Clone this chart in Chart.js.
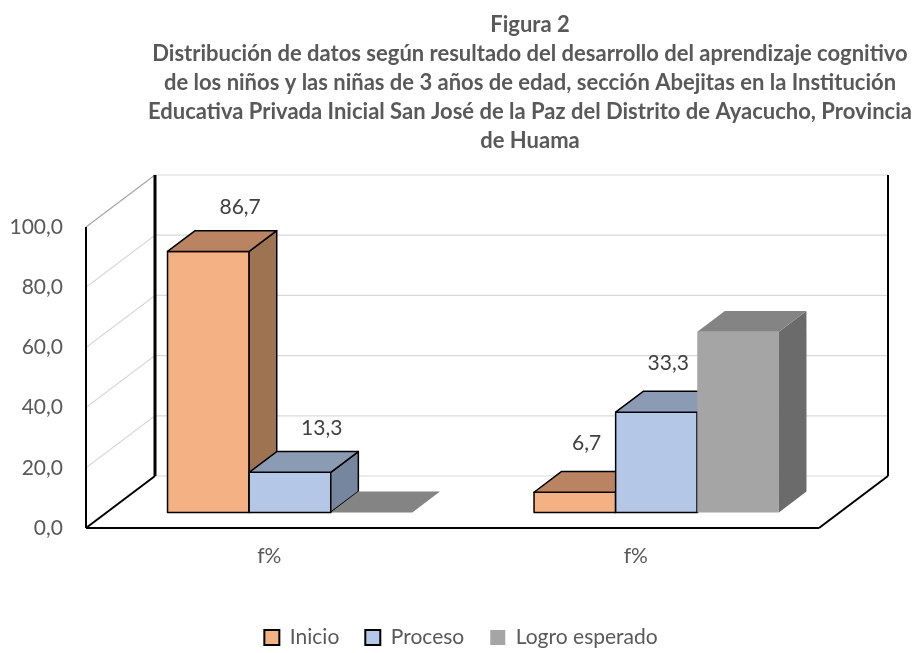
<!DOCTYPE html>
<html>
<head>
<meta charset="utf-8">
<script src="https://cdn.jsdelivr.net/npm/chart.js@4.4.1/dist/chart.umd.min.js"></script>
<style>
  html, body { margin: 0; padding: 0; background: #fff; }
  #marco { width: 922px; height: 653px; }
</style>
</head>
<body>
<div id="marco"><canvas id="grafico" width="922" height="653"></canvas></div>
<script>
// Datos
const categorias = ['f%', 'f%'];
const inicio = [86.7, 6.7];
const proceso = [13.3, 33.3];
const logroEsperado = [0, 60];
const marcasY = [0, 20, 40, 60, 80, 100];

const titulo = [
  'Figura 2',
  'Distribución de datos según resultado del desarrollo del aprendizaje cognitivo',
  'de los niños y las niñas de 3 años de edad, sección Abejitas en la Institución',
  'Educativa Privada Inicial San José de la Paz del Distrito de Ayacucho, Provincia',
  'de Huama'
];

const fuente = 'Lato, "Open Sans", sans-serif';
const gris = '#595959';
// vector de profundidad del piso (frente -> fondo)
const PROF = { dx: 69, dy: -52 };

function coma(v) {
  return v.toFixed(1).replace('.', ',');
}

function poligono(ctx, pts, relleno, borde) {
  ctx.beginPath();
  ctx.moveTo(pts[0][0], pts[0][1]);
  for (let k = 1; k < pts.length; k++) ctx.lineTo(pts[k][0], pts[k][1]);
  ctx.closePath();
  ctx.fillStyle = relleno;
  ctx.fill();
  if (borde) {
    ctx.strokeStyle = borde;
    ctx.lineWidth = 1.5;
    ctx.stroke();
  }
}

function linea(ctx, x1, y1, x2, y2) {
  ctx.beginPath();
  ctx.moveTo(x1, y1);
  ctx.lineTo(x2, y2);
  ctx.stroke();
}

// Dibuja paredes, piso y barras en 3D usando las escalas de Chart.js
const barras3D = {
  id: 'barras3D',
  beforeDatasetsDraw(chart) {
    const ctx = chart.ctx;
    const { left, right } = chart.chartArea;
    const y = chart.scales.y;
    const y0 = y.getPixelForValue(0);
    const y100 = y.getPixelForValue(100);

    ctx.save();
    ctx.lineJoin = 'round';

    // líneas de división en la pared del fondo y la pared izquierda
    ctx.lineWidth = 1.2;
    marcasY.forEach(v => {
      const yf = y.getPixelForValue(v);
      const yb = yf + PROF.dy;
      ctx.strokeStyle = '#d9d9d9';
      linea(ctx, left + PROF.dx, yb, right + PROF.dx, yb);
      if (v > 0) {
        ctx.strokeStyle = v === 100 ? '#a6a6a6' : '#d9d9d9';
        linea(ctx, left, yf, left + PROF.dx, yb);
      }
    });

    // aristas negras
    ctx.strokeStyle = '#000';
    ctx.lineWidth = 2;
    linea(ctx, left, y100, left, y0);
    linea(ctx, left, y0, right, y0);
    linea(ctx, left, y0, left + PROF.dx, y0 + PROF.dy);
    linea(ctx, right, y0, right + PROF.dx, y0 + PROF.dy);
    linea(ctx, right + PROF.dx, y100 + PROF.dy, right + PROF.dx, y0 + PROF.dy);
    ctx.lineWidth = 3;
    linea(ctx, left + PROF.dx, y100 + PROF.dy, left + PROF.dx, y0 + PROF.dy);

    // barras
    const fx = PROF.dx * 0.3, fy = PROF.dy * 0.3;
    const bx = PROF.dx * 0.4, by = PROF.dy * 0.4;
    const etiquetas = [];
    chart.data.labels.forEach((_, j) => {
      chart.data.datasets.forEach((ds, i) => {
        const el = chart.getDatasetMeta(i).data[j];
        const c = ds.caras;
        const L = el.x - el.width / 2 + fx;
        const R = el.x + el.width / 2 + fx;
        const T = y.getPixelForValue(ds.data[j]) + fy;
        const B = y0 + fy;
        if (B - T > 0.5) {
          poligono(ctx, [[L, T], [R, T], [R, B], [L, B]], c.frente, c.borde);
          poligono(ctx, [[R, T], [R + bx, T + by], [R + bx, B + by], [R, B]], c.lado, c.borde);
        }
        poligono(ctx, [[L, T], [R, T], [R + bx, T + by], [L + bx, T + by]], c.arriba, c.borde);
        if (ds.conEtiqueta) {
          etiquetas.push({
            texto: coma(ds.data[j]),
            x: (L + R) / 2 + bx / 2 + 18 - 20 * j,
            y: T + by / 2 - 34 - 5 * j
          });
        }
      });
    });

    ctx.font = '21px ' + fuente;
    ctx.fillStyle = '#404040';
    ctx.textAlign = 'center';
    ctx.textBaseline = 'middle';
    etiquetas.forEach(e => ctx.fillText(e.texto, e.x, e.y));

    ctx.restore();
    return false;
  }
};

// Título en varias líneas
const tituloFigura = {
  id: 'tituloFigura',
  afterDraw(chart) {
    const ctx = chart.ctx;
    ctx.save();
    ctx.font = 'bold 22px ' + fuente;
    ctx.fillStyle = gris;
    ctx.textAlign = 'center';
    ctx.textBaseline = 'middle';
    titulo.forEach((t, k) => ctx.fillText(t, 530, 25 + 29 * k));
    ctx.restore();
  }
};

new Chart(document.getElementById('grafico'), {
  type: 'bar',
  data: {
    labels: categorias,
    datasets: [
      {
        label: 'Inicio',
        data: inicio,
        backgroundColor: '#F4B183',
        borderColor: '#000',
        borderWidth: 2,
        conEtiqueta: true,
        caras: { frente: '#F4B183', arriba: '#BA8462', lado: '#9E7351', borde: '#000' }
      },
      {
        label: 'Proceso',
        data: proceso,
        backgroundColor: '#B4C7E7',
        borderColor: '#000',
        borderWidth: 2,
        conEtiqueta: true,
        caras: { frente: '#B4C7E7', arriba: '#8A9BB3', lado: '#76869F', borde: '#000' }
      },
      {
        label: 'Logro esperado',
        data: logroEsperado,
        backgroundColor: '#A5A5A5',
        borderColor: '#A5A5A5',
        borderWidth: 0,
        conEtiqueta: false,
        caras: { frente: '#A5A5A5', arriba: '#848484', lado: '#6B6B6B', borde: null }
      }
    ]
  },
  options: {
    responsive: false,
    animation: false,
    categoryPercentage: 0.668,
    barPercentage: 1,
    layout: {
      padding: { top: 227, right: 0, left: 0, bottom: -5 }
    },
    scales: {
      x: {
        grid: { display: false, drawTicks: false },
        border: { display: false },
        ticks: { color: gris, font: { family: fuente, size: 21 }, padding: 16 },
        afterFit(scale) { scale.height = 73; }
      },
      y: {
        min: 0,
        max: 100,
        grid: { display: false, drawTicks: false },
        border: { display: false },
        ticks: {
          stepSize: 20,
          color: gris,
          font: { family: fuente, size: 21 },
          padding: 23,
          callback: v => coma(v)
        },
        afterFit(scale) { scale.width = 86; }
      },
      // eje vacío a la derecha: deja sitio para la profundidad 3D
      derecha: {
        type: 'linear',
        position: 'right',
        min: 0,
        max: 100,
        grid: { display: false, drawTicks: false },
        border: { display: false },
        ticks: { display: false },
        afterFit(scale) { scale.width = 103; }
      }
    },
    plugins: {
      title: { display: false },
      tooltip: { enabled: false },
      legend: {
        position: 'bottom',
        labels: {
          color: gris,
          font: { family: fuente, size: 21 },
          boxWidth: 15,
          boxHeight: 15,
          padding: 26
        }
      }
    }
  },
  plugins: [barras3D, tituloFigura]
});
</script>
</body>
</html>
